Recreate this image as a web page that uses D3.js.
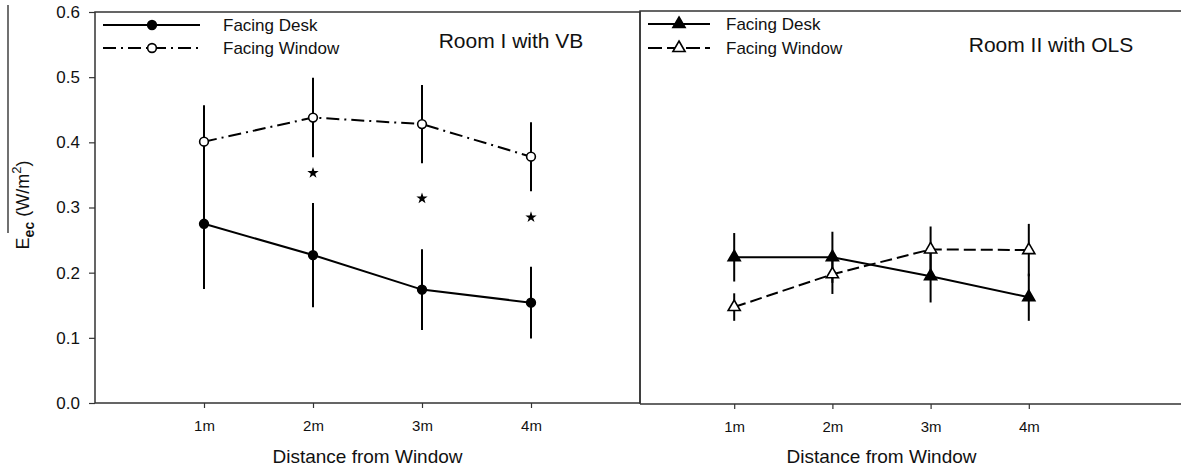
<!DOCTYPE html>
<html>
<head>
<meta charset="utf-8">
<script src="https://cdn.jsdelivr.net/npm/d3@7"></script>
<style>
  body { margin: 0; background: #fff; }
  svg { display: block; font-family: 'Liberation Sans', Arial, sans-serif; }
</style>
</head>
<body>
<div class="canvas"></div>
<script>
// DATA --------------------------------------------------------------------------
const distances = ['1m', '2m', '3m', '4m'];
const yTicks = [0.0, 0.1, 0.2, 0.3, 0.4, 0.5, 0.6];

// Room I with VB
const room1Desk = [0.275, 0.227, 0.174, 0.154];
const room1DeskErr = [0.100, 0.080, 0.062, 0.055];
const room1Window = [0.401, 0.438, 0.428, 0.378];
const room1WindowErr = [0.056, 0.061, 0.060, 0.053];
const room1Stars = [null, 0.353, 0.314, 0.285];     // significance marks

// Room II with OLS
const room2Desk = [0.224, 0.224, 0.195, 0.163];
const room2DeskErr = [0.037, 0.039, 0.040, 0.036];
const room2Window = [0.148, 0.198, 0.236, 0.235];
const room2WindowErr = [0.021, 0.030, 0.035, 0.040];

const seriesNames = ['Facing Desk', 'Facing Window'];

// SET UP ------------------------------------------------------------------------
const width = 1181, height = 470;
const svg = d3.select('.canvas')
    .append('svg')
        .attr('width', width)
        .attr('height', height);

const ink = '#000';
const frame = '#333';

// Scales (categories sit at 1..4 on a 0..5 axis)
const x1 = d3.scaleLinear().domain([0, 5]).range([95, 640]);
const x2 = d3.scaleLinear().domain([0, 5]).range([636, 1127]);
const y1 = d3.scaleLinear().domain([0, 0.6]).range([403, 12]);
const y2 = d3.scaleLinear().domain([0, 0.6]).range([404, 11]);

const dashDot = '13,5,2,5';
const dashed = '12,5';

// Panel frames
svg.append('rect')
    .attr('x', x1(0)).attr('y', y1(0.6))
    .attr('width', x1(5) - x1(0)).attr('height', y1(0) - y1(0.6))
    .attr('fill', 'none').attr('stroke', frame).attr('stroke-width', 1.5);

svg.append('path')
    .attr('d', `M640,${y2(0)}V${y2(0.6)}H${width}`)
    .attr('fill', 'none').attr('stroke', frame).attr('stroke-width', 1.5);

// Y axis (left panel only)
const yAxis = d3.axisLeft(y1)
    .tickValues(yTicks)
    .tickSize(6)
    .tickPadding(9)
    .tickFormat(d3.format('.1f'));
const yAxisGroup = svg.append('g')
    .attr('transform', `translate(${x1(0)},0)`)
    .call(yAxis);

// X axes
const xAxis1 = d3.axisBottom(x1)
    .tickValues([1, 2, 3, 4])
    .tickSize(5)
    .tickPadding(12)
    .tickFormat(d => distances[d - 1]);
const xAxisGroup1 = svg.append('g')
    .attr('transform', `translate(0,${y1(0)})`)
    .call(xAxis1);

const xAxis2 = d3.axisBottom(x2)
    .tickValues([1, 2, 3, 4])
    .tickSize(5)
    .tickPadding(12)
    .tickFormat(d => distances[d - 1]);
const xAxisGroup2 = svg.append('g')
    .attr('transform', `translate(0,${y2(0)})`)
    .call(xAxis2);

// bottom line of right panel runs to the edge
svg.append('line')
    .attr('x1', 640).attr('x2', width)
    .attr('y1', y2(0)).attr('y2', y2(0))
    .attr('stroke', frame).attr('stroke-width', 1.5);

[yAxisGroup, xAxisGroup1, xAxisGroup2].forEach(g => {
    g.select('.domain').remove();
    g.selectAll('line').attr('stroke', frame).attr('stroke-width', 1.2);
    g.selectAll('text')
        .attr('fill', '#111')
        .style('font-family', "'Liberation Sans', Arial, sans-serif");
});
yAxisGroup.selectAll('text').style('font-size', '17px');
xAxisGroup1.selectAll('text').style('font-size', '15px');
xAxisGroup2.selectAll('text').style('font-size', '15px');

// Axis titles
[x1, x2].forEach(x => {
    svg.append('text')
        .attr('text-anchor', 'middle')
        .attr('x', x(2.5))
        .attr('y', 463)
        .text('Distance from Window')
        .style('font-size', '19px')
        .attr('fill', '#111');
});

const yTitle = svg.append('text')
    .attr('transform', 'translate(29,205) rotate(-90)')
    .attr('text-anchor', 'middle')
    .style('font-size', '18px')
    .attr('fill', '#111');
yTitle.append('tspan').text('E');
yTitle.append('tspan').text('ec').attr('dy', 5).style('font-size', '14px').style('font-weight', 700);
yTitle.append('tspan').text(' (W/m').attr('dy', -5);
yTitle.append('tspan').text('2').attr('dy', -8).style('font-size', '13px');
yTitle.append('tspan').text(')').attr('dy', 8);

// overline on the mean symbol
svg.append('line')
    .attr('x1', 8).attr('x2', 8)
    .attr('y1', 5).attr('y2', 233)
    .attr('stroke', '#111').attr('stroke-width', 1.2);

// Panel titles
svg.append('text')
    .attr('text-anchor', 'middle')
    .attr('x', 511).attr('y', 48)
    .text('Room I with VB')
    .style('font-size', '21px').attr('fill', '#111');

svg.append('text')
    .attr('text-anchor', 'middle')
    .attr('x', 1051).attr('y', 52)
    .text('Room II with OLS')
    .style('font-size', '21px').attr('fill', '#111');

// DRAW SERIES -------------------------------------------------------------------
const circle = d3.symbol().type(d3.symbolCircle).size(60);
const triangle = d3.symbol().type(d3.symbolTriangle).size(64);

const drawSeries = (x, y, values, errs, dash, symbol, filled) => {
    const g = svg.append('g');
    const pts = values.map((v, i) => ({ i: i + 1, v, e: errs[i] }));

    // error bars
    g.selectAll('line.err')
        .data(pts)
        .enter()
        .append('line')
            .attr('class', 'err')
            .attr('x1', d => x(d.i)).attr('x2', d => x(d.i))
            .attr('y1', d => y(d.v + d.e)).attr('y2', d => y(d.v - d.e))
            .attr('stroke', ink).attr('stroke-width', 2);

    // connecting line
    const line = d3.line().x(d => x(d.i)).y(d => y(d.v));
    g.append('path')
        .datum(pts)
        .attr('d', line)
        .attr('fill', 'none')
        .attr('stroke', ink)
        .attr('stroke-width', 2)
        .attr('stroke-dasharray', dash);

    // markers
    g.selectAll('path.mark')
        .data(pts)
        .enter()
        .append('path')
            .attr('class', 'mark')
            .attr('d', symbol)
            .attr('transform', d => `translate(${x(d.i)},${y(d.v)})`)
            .attr('fill', filled ? ink : '#fff')
            .attr('stroke', ink)
            .attr('stroke-width', 1.6);
};

drawSeries(x1, y1, room1Desk, room1DeskErr, null, circle, true);
drawSeries(x1, y1, room1Window, room1WindowErr, dashDot, circle, false);
drawSeries(x2, y2, room2Desk, room2DeskErr, null, triangle, true);
drawSeries(x2, y2, room2Window, room2WindowErr, dashed, triangle, false);

// significance stars
svg.append('g').selectAll('path')
    .data(room1Stars.map((v, i) => ({ i: i + 1, v })).filter(d => d.v !== null))
    .enter()
    .append('path')
        .attr('d', d3.symbol().type(d3.symbolStar).size(40))
        .attr('transform', d => `translate(${x1(d.i)},${y1(d.v)})`)
        .attr('fill', ink);

// LEGENDS -----------------------------------------------------------------------
const drawLegend = (x0, x1l, xm, xt, rows) => {
    const g = svg.append('g');
    rows.forEach(r => {
        g.append('line')
            .attr('x1', x0).attr('x2', x1l)
            .attr('y1', r.y).attr('y2', r.y)
            .attr('stroke', ink).attr('stroke-width', 2)
            .attr('stroke-dasharray', r.dash);
        g.append('path')
            .attr('d', r.symbol)
            .attr('transform', `translate(${xm},${r.y})`)
            .attr('fill', r.filled ? ink : '#fff')
            .attr('stroke', ink).attr('stroke-width', 1.6);
        g.append('text')
            .attr('x', xt).attr('y', r.y + 6)
            .text(r.name)
            .style('font-size', '17px')
            .attr('fill', '#111');
    });
};

drawLegend(103, 200, 152, 223, [
    { y: 25, dash: null, symbol: circle, filled: true, name: seriesNames[0] },
    { y: 48, dash: dashDot, symbol: circle, filled: false, name: seriesNames[1] }
]);
drawLegend(648, 710, 679, 726, [
    { y: 24, dash: null, symbol: triangle, filled: true, name: seriesNames[0] },
    { y: 48, dash: '14,5', symbol: triangle, filled: false, name: seriesNames[1] }
]);
</script>
</body>
</html>
